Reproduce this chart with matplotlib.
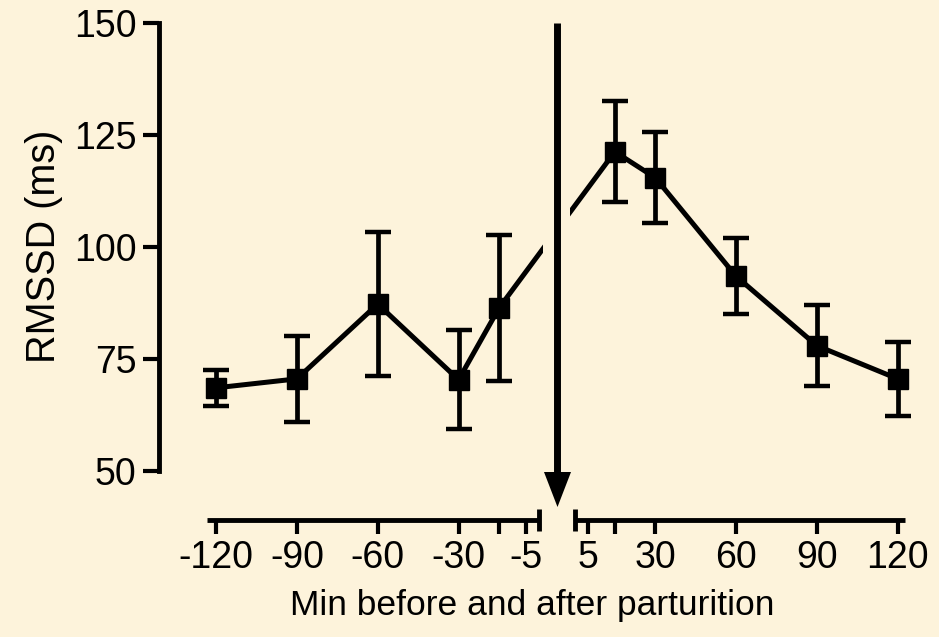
import numpy as np
import matplotlib
matplotlib.use('Agg')
import matplotlib.pyplot as plt

# 字体: Arial 同款度量的 Liberation Sans
plt.rcParams['font.family'] = ['Liberation Sans', 'DejaVu Sans']

# 分娩前后各时间点的 RMSSD 均值与标准误
minutes = [-120, -90, -60, -30, -15, 15, 30, 60, 90, 120]
rmssd = [68.5, 70.5, 87.2, 70.3, 86.3, 121.2, 115.4, 93.4, 77.9, 70.5]
sem = [4.0, 9.6, 16.1, 11.1, 16.3, 11.3, 10.2, 8.5, 9.0, 8.2]

tick_pos = [-120, -90, -60, -30, -15, -5, 5, 15, 30, 60, 90, 120]
tick_labels = ['-120', '-90', '-60', '-30', '', '-5', '5', '', '30', '60', '90', '120']
y_ticks = [50, 75, 100, 125, 150]

bg = '#FDF3DB'
GAP = 6.5  # 0 点两侧断轴留出的空隙


# 断轴: 在 -1..1 之间把坐标拉开
def fwd(x):
    x = np.asarray(x, dtype=float)
    return np.where(np.abs(x) < 1, x * (1 + GAP), x + GAP * np.sign(x))


def inv(u):
    u = np.asarray(u, dtype=float)
    return np.where(np.abs(u) < 1 + GAP, u / (1 + GAP), u - GAP * np.sign(u))


fig = plt.figure(figsize=(9.39, 6.37), dpi=100, facecolor=bg)
ax = fig.add_axes([159 / 939, 166.3 / 637, (905 - 159) / 939, 448 / 637])
ax.set_facecolor(bg)
ax.set_xscale('function', functions=(fwd, inv))
ax.set_xlim(-141.2, 122.7)
ax.set_ylim(50, 150)

ax.errorbar(minutes, rmssd, yerr=sem, fmt='-s', color='black', lw=3.6, ms=15,
            elinewidth=3.4, capsize=9.5, capthick=3.2, zorder=2, clip_on=False)

# 箭头处把连线断开
ax.axvspan(-0.67, 0.67, color=bg, lw=0, zorder=3)

# 分娩时刻的箭头: 竖线 + 三角形箭头
trans = ax.get_xaxis_transform()
tip = -0.081
head = 35 / 448
ax.plot([0, 0], [1.0, tip + head], color='black', lw=5, transform=trans,
        clip_on=False, solid_capstyle='butt', zorder=4)
head_marker = [(-0.386, 0.5), (0.386, 0.5), (0, -0.5), (-0.386, 0.5)]
ax.plot([0], [tip + head / 2], marker=head_marker, ms=25.2, color='black',
        mew=0, transform=trans, clip_on=False, zorder=4)

# 坐标轴
for s in ['top', 'right']:
    ax.spines[s].set_visible(False)
ax.spines['left'].set_linewidth(3.5)
ax.spines['bottom'].set_position(('outward', 35.1))
ax.spines['bottom'].set_visible(False)

# 手动画断开的 x 轴线和断点标记
y_axis = -48.8 / 448
mark = 11 / 448
for x0, x1, xb in [(-123.5, -0.9, -0.9), (0.9, 122.7, 0.9)]:
    ax.plot([x0, x1], [y_axis, y_axis], color='black', lw=3.5, transform=trans,
            clip_on=False, solid_capstyle='butt')
    ax.plot([xb, xb], [y_axis + mark, y_axis - mark], color='black', lw=3.5,
            transform=trans, clip_on=False, solid_capstyle='butt')

ax.set_xticks(tick_pos)
ax.set_xticklabels(tick_labels)
ax.xaxis.set_minor_locator(matplotlib.ticker.NullLocator())
ax.set_yticks(y_ticks)
ax.tick_params(axis='x', length=11, width=3, pad=4, labelsize=27)
ax.tick_params(axis='y', length=11.5, width=3, pad=4.5, labelsize=27)

ax.set_xlabel('Min before and after parturition', fontsize=25.5, labelpad=9)
ax.set_ylabel('RMSSD (ms)', fontsize=28.5, labelpad=8)

plt.savefig('out.png', dpi=100, facecolor=bg)
